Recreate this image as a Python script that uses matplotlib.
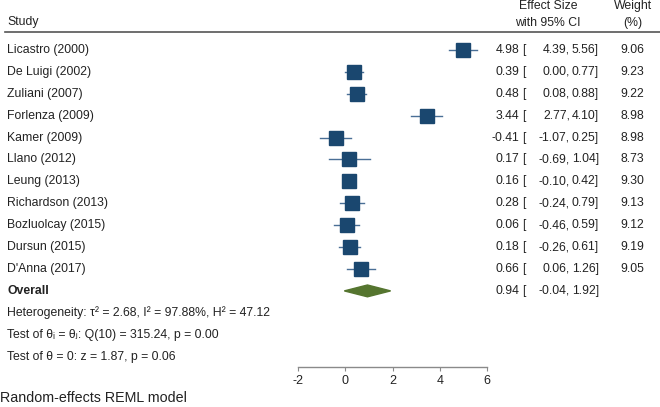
import matplotlib
matplotlib.use("Agg")
import matplotlib.pyplot as plt
from matplotlib import transforms
from matplotlib.patches import Polygon

plt.rcParams['font.family'] = ['Liberation Sans', 'DejaVu Sans']

studies = ["Licastro (2000)", "De Luigi (2002)", "Zuliani (2007)", "Forlenza (2009)",
           "Kamer (2009)", "Llano (2012)", "Leung (2013)", "Richardson (2013)",
           "Bozluolcay (2015)", "Dursun (2015)", "D'Anna (2017)"]
est = [4.98, 0.39, 0.48, 3.44, -0.41, 0.17, 0.16, 0.28, 0.06, 0.18, 0.66]
lo = [4.39, 0.00, 0.08, 2.77, -1.07, -0.69, -0.10, -0.24, -0.46, -0.26, 0.06]
hi = [5.56, 0.77, 0.88, 4.10, 0.25, 1.04, 0.42, 0.79, 0.59, 0.61, 1.26]
weights = [9.06, 9.23, 9.22, 8.98, 8.98, 8.73, 9.30, 9.13, 9.12, 9.19, 9.05]
overall = (0.94, -0.04, 1.92)
xticks = [-2, 0, 2, 4, 6]

W, H = 660, 407
fig = plt.figure(figsize=(W / 100, H / 100), dpi=100)

row0, dr = 50, 21.9
ax_left, ax_right, ax_bot = 298, 487, 367
ax = fig.add_axes([ax_left / W, (H - ax_bot) / H, (ax_right - ax_left) / W, ax_bot / H])
ax.set_xlim(-2, 6)
ax.set_ylim((ax_bot - row0) / dr, -row0 / dr)
for s in ['top', 'right', 'left']:
    ax.spines[s].set_visible(False)
ax.spines['bottom'].set_color('#8a8a8a')
ax.spines['bottom'].set_linewidth(1.0)
ax.set_yticks([])
ax.set_xticks(xticks)
ax.set_xticklabels([str(t) for t in xticks])
ax.tick_params(axis='x', direction='out', length=3, color='#8a8a8a', labelsize=9,
               pad=3, labelcolor='#222222')

navy = '#1a476f'
green = '#55752f'
fs = 8.8
for i in range(len(studies)):
    ax.plot([lo[i], hi[i]], [i, i], color='#4a6f96', lw=1.0, clip_on=False, zorder=2)
    ax.plot(est[i], i, marker='s', color=navy, ms=3.3 * weights[i] ** 0.5,
            mec=navy, clip_on=False, zorder=3)

oy = len(studies)
oe, ol, oh = overall
ax.add_patch(Polygon([(ol, oy), (oe, oy - 0.27), (oh, oy), (oe, oy + 0.27)],
                     closed=True, facecolor=green, edgecolor=green, clip_on=False))

tr = transforms.blended_transform_factory(fig.transFigure, ax.transData)
trf = fig.transFigure

def fx(px):
    return px / W

def fy(py):
    return 1 - py / H

tc = '#222222'
# header
fig.text(fx(7), fy(22), "Study", fontsize=fs, va='center', ha='left', color=tc)
fig.text(fx(548), fy(6), "Effect Size", fontsize=fs, va='center', ha='center', color=tc)
fig.text(fx(548), fy(23), "with 95% CI", fontsize=fs, va='center', ha='center', color=tc)
fig.text(fx(633), fy(6), "Weight", fontsize=fs, va='center', ha='center', color=tc)
fig.text(fx(633), fy(23), "(%)", fontsize=fs, va='center', ha='center', color=tc)
fig.add_artist(plt.Line2D([fx(5), fx(660)], [fy(32), fy(32)], color='#555555', lw=1.2,
                          transform=trf))

def row_text(y, e, l, h, w=None, label=None, bold=False):
    if label is not None:
        ax.text(fx(7), y, label, transform=tr, fontsize=fs, va='center', ha='left',
                color=tc, fontweight='bold' if bold else 'normal')
    ax.text(fx(519), y, f"{e:.2f}", transform=tr, fontsize=fs, va='center', ha='right', color=tc)
    ax.text(fx(522), y, "[", transform=tr, fontsize=fs, va='center', ha='left', color=tc)
    ax.text(fx(570), y, f"{l:.2f},", transform=tr, fontsize=fs, va='center', ha='right', color=tc)
    ax.text(fx(599), y, f"{h:.2f}]", transform=tr, fontsize=fs, va='center', ha='right', color=tc)
    if w is not None:
        ax.text(fx(644), y, f"{w:.2f}", transform=tr, fontsize=fs, va='center', ha='right', color=tc)

for i in range(len(studies)):
    row_text(i, est[i], lo[i], hi[i], weights[i], studies[i])
row_text(oy, oe, ol, oh, None, "Overall", bold=True)

ax.text(fx(7), oy + 1, "Heterogeneity: τ² = 2.68, I² = 97.88%, H² = 47.12", transform=tr,
        fontsize=fs, va='center', ha='left', color=tc)
ax.text(fx(7), oy + 2, "Test of θᵢ = θⱼ: Q(10) = 315.24, p = 0.00", transform=tr,
        fontsize=fs, va='center', ha='left', color=tc)
ax.text(fx(7), oy + 3, "Test of θ = 0: z = 1.87, p = 0.06", transform=tr,
        fontsize=fs, va='center', ha='left', color=tc)
fig.text(fx(0), fy(398), "Random-effects REML model", fontsize=10.3, va='center', ha='left', color=tc)

fig.savefig("out.png", dpi=100, facecolor='white')
